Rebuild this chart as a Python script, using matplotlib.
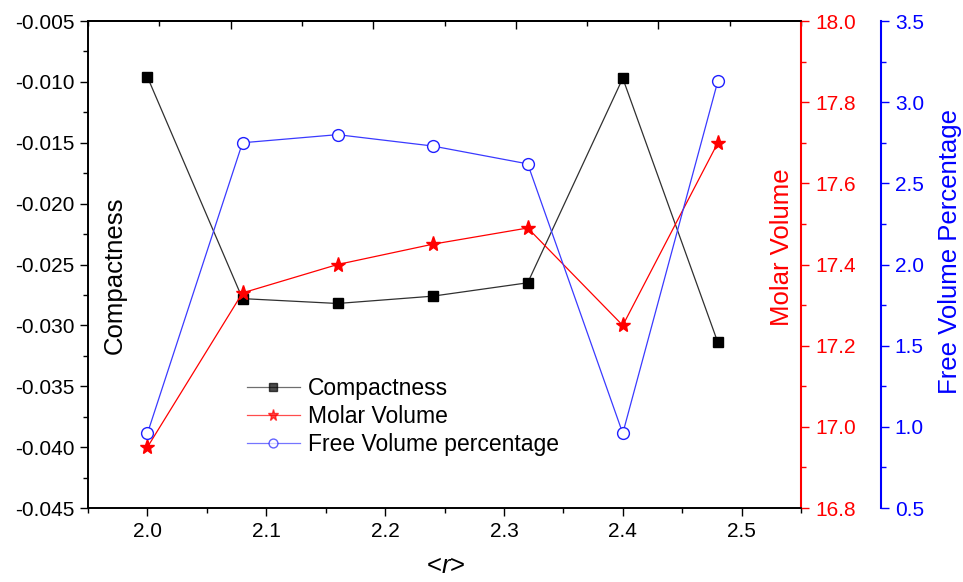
import numpy as np
import matplotlib
matplotlib.use('Agg')
import matplotlib.pyplot as plt
import matplotlib as mp
from matplotlib.ticker import MultipleLocator, FormatStrFormatter

config = {'font.family': ['Liberation Sans', 'DejaVu Sans'],
          'mathtext.fontset': 'custom',
          'mathtext.rm': 'Liberation Sans',
          'mathtext.it': 'Liberation Sans:italic',
          'axes.unicode_minus': False,
          'font.size': 15,
          'axes.linewidth': 1.2,
          'xtick.major.size': 6, 'ytick.major.size': 6,
          'xtick.minor.size': 3.5, 'ytick.minor.size': 3.5,
          'xtick.major.width': 1.0, 'ytick.major.width': 1.0,
          'xtick.minor.width': 1.0, 'ytick.minor.width': 1.0,
          'xtick.major.pad': 4, 'ytick.major.pad': 4,
          }
mp.rcParams.update(**config)

# data
r_mean = [2.0, 2.08, 2.16, 2.24, 2.32, 2.40, 2.48]
compactness = [-0.0096, -0.0278, -0.0282, -0.0276, -0.0265, -0.0097, -0.0314]
molar_volume = [16.95, 17.33, 17.40, 17.45, 17.49, 17.25, 17.70]
free_volume = [0.96, 2.75, 2.80, 2.73, 2.62, 0.96, 3.13]

fig = plt.figure(figsize=(9.63, 5.82), dpi=100)
ax = fig.add_axes([0.0914, 0.1271, 0.7404, 0.8368])
ax2 = ax.twinx()
ax3 = ax.twinx()

l1, = ax.plot(r_mean, compactness, c='#303030', lw=0.9, marker='s', ms=7.5,
              mfc='k', mec='k', label='Compactness')
l2, = ax2.plot(r_mean, molar_volume, c='red', lw=0.9, marker='*', ms=11,
               mfc='red', mec='red', label='Molar Volume')
l3, = ax3.plot(r_mean, free_volume, c='#3a3aff', lw=0.9, marker='o', ms=8.5,
               mfc='white', mec='#2020ff', mew=1.0, label='Free Volume percentage')

# host axis
ax.set_xlim(1.95, 2.55)
ax.set_ylim(-0.045, -0.005)
ax.xaxis.set_major_locator(MultipleLocator(0.1))
ax.xaxis.set_minor_locator(MultipleLocator(0.05))
ax.yaxis.set_major_locator(MultipleLocator(0.005))
ax.yaxis.set_minor_locator(MultipleLocator(0.0025))
ax.xaxis.set_major_formatter(FormatStrFormatter('%.1f'))
ax.yaxis.set_major_formatter(FormatStrFormatter('%.3f'))
ax.tick_params(which='both', direction='out', top=False, right=False)

top = ax.secondary_xaxis('top', functions=(lambda x: (x - 1.95) / 0.6,
                                           lambda t: 1.95 + 0.6 * t))
top.set_xticks([0.2, 0.4, 0.6, 0.8])
top.xaxis.set_minor_locator(MultipleLocator(0.1))
top.tick_params(which='both', direction='in', labeltop=False)

ax.set_xlabel('<$\\mathit{r}$>', fontsize=18.5)
ax.xaxis.set_label_coords(0.502, -0.12)
ax.xaxis.label.set_va('center')
ax.set_ylabel('Compactness', fontsize=18.5)
ax.yaxis.set_label_coords(0.038, 0.478)
ax.yaxis.label.set_va('center')

# molar volume axis
ax2.set_ylim(16.8, 18.0)
ax2.yaxis.set_major_locator(MultipleLocator(0.2))
ax2.yaxis.set_minor_locator(MultipleLocator(0.1))
ax2.yaxis.set_major_formatter(FormatStrFormatter('%.1f'))
ax2.spines['right'].set_color('red')
ax2.spines['right'].set_linewidth(1.5)
ax2.tick_params(which='both', direction='out', colors='red', width=1.0)
ax2.set_ylabel('Molar Volume', fontsize=18.5, color='red')
ax2.yaxis.set_label_coords(0.973, 0.535)
ax2.yaxis.label.set_va('center')

# free volume axis
ax3.set_ylim(0.5, 3.5)
ax3.spines['right'].set_position(('axes', 1.112))
ax3.spines['right'].set_color('blue')
ax3.spines['right'].set_linewidth(1.5)
for s in ['left', 'top', 'bottom']:
    ax3.spines[s].set_visible(False)
ax3.yaxis.set_major_locator(MultipleLocator(0.5))
ax3.yaxis.set_minor_locator(MultipleLocator(0.25))
ax3.yaxis.set_major_formatter(FormatStrFormatter('%.1f'))
ax3.tick_params(which='both', direction='out', colors='blue', width=1.0)
ax3.set_ylabel('Free Volume Percentage', fontsize=18.5, color='blue')
ax3.yaxis.set_label_coords(1.209, 0.527)
ax3.yaxis.label.set_va('center')

leg = ax3.legend([l1, l2, l3], [l.get_label() for l in (l1, l2, l3)],
                 loc='center left', bbox_to_anchor=(0.223, 0.188),
                 frameon=False, fontsize=16.5, borderpad=0, borderaxespad=0,
                 handlelength=2.3, handletextpad=0.35, labelspacing=0.2,
                 markerscale=0.75)
for h in leg.legend_handles:
    h.set_alpha(0.7)

fig.savefig('out.png', dpi=100)
